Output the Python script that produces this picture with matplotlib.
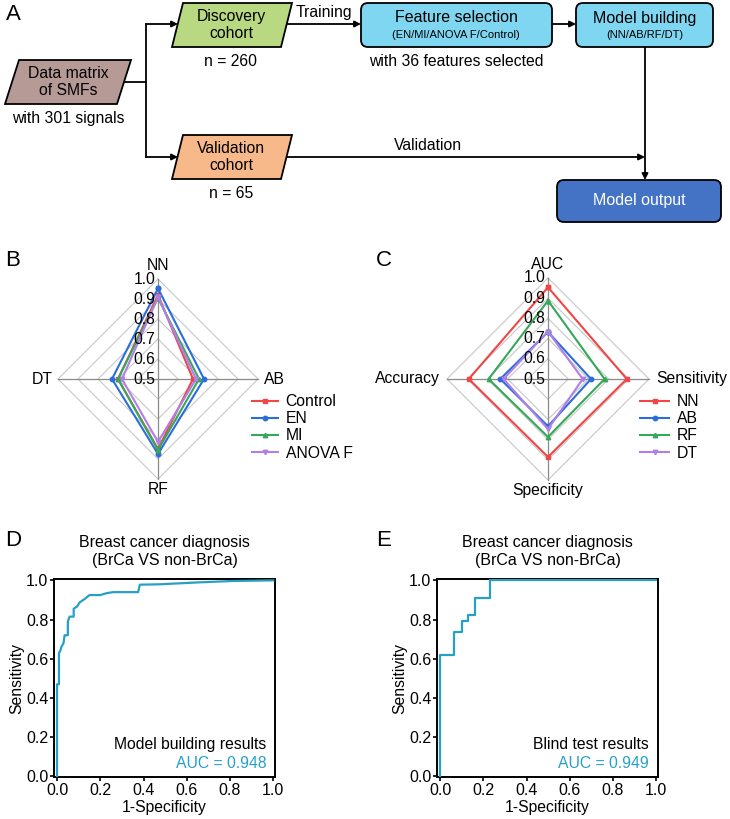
import matplotlib
matplotlib.use('Agg')
import matplotlib.pyplot as plt
from matplotlib.patches import Polygon, FancyBboxPatch
import numpy as np

W, H = 730, 819
plt.rcParams['font.family'] = ['Liberation Sans', 'DejaVu Sans']

# ── data ──────────────────────────────────────────────────────────────────────
radar_ticks = [0.5, 0.6, 0.7, 0.8, 0.9, 1.0]

b_axes = ['NN', 'AB', 'RF', 'DT']
b_names = ['Control', 'EN', 'MI', 'ANOVA F']
b_control = [0.92, 0.675, 0.85, 0.70]
b_en = [0.953, 0.73, 0.875, 0.73]
b_mi = [0.905, 0.705, 0.855, 0.70]
b_anova = [0.91, 0.69, 0.815, 0.68]

c_axes = ['AUC', 'Sensitivity', 'Specificity', 'Accuracy']
c_names = ['NN', 'AB', 'RF', 'DT']
c_nn = [0.954, 0.89, 0.886, 0.892]
c_ab = [0.733, 0.713, 0.734, 0.736]
c_rf = [0.888, 0.78, 0.787, 0.794]
c_dt = [0.735, 0.672, 0.748, 0.72]

d_fpr = [0, 0, 0.009, 0.009, 0.015, 0.02, 0.03, 0.035, 0.05, 0.05, 0.058, 0.077,
         0.077, 0.093, 0.105, 0.128, 0.15, 0.2, 0.23, 0.26, 0.375, 0.383, 0.475,
         0.66, 0.815, 1.0]
d_tpr = [0, 0.47, 0.47, 0.63, 0.64, 0.66, 0.68, 0.72, 0.72, 0.79, 0.815, 0.815,
         0.855, 0.867, 0.888, 0.905, 0.925, 0.925, 0.935, 0.94, 0.94, 0.978, 0.98,
         0.99, 0.997, 1.0]
d_auc = 0.948

e_fpr = [0, 0, 0.066, 0.066, 0.10, 0.10, 0.131, 0.131, 0.164, 0.164, 0.231, 0.231, 1.0]
e_tpr = [0, 0.619, 0.619, 0.737, 0.737, 0.793, 0.793, 0.825, 0.825, 0.91, 0.91, 1.0, 1.0]
e_auc = 0.949

# ── colours ───────────────────────────────────────────────────────────────────
RED = "#f04646"
BLUE = "#2a6edb"
GREEN = "#35a85a"
PURPLE = "#b07fe8"
ROC = "#27a0c8"
RING = "#c8c8c8"
SPOKE = "#8a8a8a"


def rect(l, t, w, h):
    return [l / W, 1 - (t + h) / H, w / W, h / H]


fig = plt.figure(figsize=(W / 100, H / 100), dpi=100)

# ══════════════════════════════════════════════════════════════════════════════
# A. flowchart (pixel coordinates on an overlay axes)
# ══════════════════════════════════════════════════════════════════════════════
ov = fig.add_axes([0, 0, 1, 1])
ov.set_xlim(0, W)
ov.set_ylim(H, 0)
ov.axis('off')


def para(x0, x1, top, bot, slant, fc):
    pts = [(x0 + slant, top), (x1, top), (x1 - slant, bot), (x0, bot)]
    ov.add_patch(Polygon(pts, closed=True, fc=fc, ec='k', lw=1.3, zorder=2))


def rbox(x0, x1, top, bot, fc):
    ov.add_patch(FancyBboxPatch((x0, top), x1 - x0, bot - top,
                                boxstyle="round,pad=0,rounding_size=7",
                                fc=fc, ec='k', lw=1.3, zorder=2))


def arrow(p0, p1):
    ov.annotate('', xy=p1, xytext=p0,
                arrowprops=dict(arrowstyle='-|>', color='k', lw=1.3,
                                mutation_scale=9, shrinkA=0, shrinkB=0))


def line(xs, ys):
    ov.plot(xs, ys, color='k', lw=1.3, zorder=1)


para(5, 131, 60, 104, 14, "#b59a96")
ov.text(68, 82, "Data matrix\nof SMFs", ha='center', va='center', fontsize=11.3,
        linespacing=1.15, zorder=3)
ov.text(68, 119, "with 301 signals", ha='center', va='center', fontsize=11.3)

line([124, 146], [82, 82])
line([146, 146], [24, 157])
arrow((146, 24), (178, 24))
arrow((146, 157), (178, 157))

para(172, 292, 3, 47, 11, "#b8d882")
ov.text(231, 25, "Discovery\ncohort", ha='center', va='center', fontsize=11.3,
        linespacing=1.15, zorder=3)
ov.text(231, 61, "n = 260", ha='center', va='center', fontsize=11.3)

arrow((287, 24), (361, 24))
ov.text(324, 13, "Training", ha='center', va='center', fontsize=11.3)

rbox(361, 552, 3, 47, "#7fd6f0")
ov.text(456, 18, "Feature selection", ha='center', va='center', fontsize=11.5, zorder=3)
ov.text(456, 35, "(EN/MI/ANOVA F/Control)", ha='center', va='center', fontsize=8, zorder=3)
ov.text(456, 61, "with 36 features selected", ha='center', va='center', fontsize=11.3)

arrow((552, 24), (576, 24))

rbox(576, 713, 3, 47, "#7fd6f0")
ov.text(645, 18, "Model building", ha='center', va='center', fontsize=11.5, zorder=3)
ov.text(645, 35, "(NN/AB/RF/DT)", ha='center', va='center', fontsize=8, zorder=3)

arrow((645, 47), (645, 180))

para(172, 292, 135, 179, 11, "#f8b98a")
ov.text(231, 157, "Validation\ncohort", ha='center', va='center', fontsize=11.3,
        linespacing=1.15, zorder=3)
ov.text(231, 193, "n = 65", ha='center', va='center', fontsize=11.3)

arrow((287, 157), (645, 157))
ov.text(428, 146, "Validation", ha='center', va='center', fontsize=11.3)

rbox(557, 721, 180, 222, "#4472c4")
ov.text(639, 201, "Model output", ha='center', va='center', fontsize=11.5,
        color='white', zorder=3)

# panel letters
for letter, x, y in [("A", 13, 15), ("B", 13, 260), ("C", 384, 260),
                     ("D", 13, 540), ("E", 384, 540)]:
    ov.text(x, y, letter, ha='center', va='center', fontsize=16)


# ══════════════════════════════════════════════════════════════════════════════
# B / C. radar charts
# ══════════════════════════════════════════════════════════════════════════════
def radar(cx, cy, rad, labels, series, names, colors, markers, label_pad, leg_xy,
          leg_handle):
    ax = fig.add_axes(rect(cx - rad, cy - rad, 2 * rad, 2 * rad), projection='polar')
    ax.set_theta_zero_location('N')
    ax.set_theta_direction(-1)
    ax.set_ylim(0.5, 1.0)
    ax.grid(False)
    ax.set_xticks([])
    ax.set_yticks([])
    ax.spines['polar'].set_visible(False)
    ax.patch.set_visible(False)

    ang = list(np.arange(len(labels)) * 2 * np.pi / len(labels))
    closed = ang + ang[:1]
    for t in radar_ticks[1:]:
        ax.plot(closed, [t] * len(closed), color=RING, lw=0.8, clip_on=False, zorder=1)
    for a in ang:
        ax.plot([a, a], [0.5, 1.0], color=SPOKE, lw=0.9, clip_on=False, zorder=1)

    for vals, name, col, mk in zip(series, names, colors, markers):
        v = list(vals) + list(vals[:1])
        ax.plot(closed, v, color=col, lw=1.5, marker=mk, markersize=3.2,
                label=name, clip_on=False, zorder=3)

    for t in radar_ticks:
        ax.annotate(f"{t:.1f}", xy=(0, t), xytext=(-2, 0), textcoords='offset points',
                    ha='right', va='center', fontsize=11.3, zorder=4)

    offs = [((0, 4.5), 'center', 'bottom'), ((label_pad, 0), 'left', 'center'),
            ((0, -2), 'center', 'top'), ((-label_pad, 0), 'right', 'center')]
    for a, lab, (o, ha, va) in zip(ang, labels, offs):
        ax.annotate(lab, xy=(a, 1.0), xytext=o, textcoords='offset points',
                    ha=ha, va=va, fontsize=11.3)

    ax.legend(loc='upper left', bbox_to_anchor=(leg_xy[0] / W, 1 - leg_xy[1] / H),
              bbox_transform=fig.transFigure, frameon=False, fontsize=11.3,
              handlelength=leg_handle, handletextpad=0.5, labelspacing=0.14,
              borderpad=0, borderaxespad=0)
    return ax


radar(158, 379, 100, b_axes, [b_control, b_en, b_mi, b_anova], b_names,
      [RED, BLUE, GREEN, PURPLE], ['s', 'o', '^', 'v'], 4, (252, 394), 1.65)
radar(548, 379, 101, c_axes, [c_nn, c_ab, c_rf, c_dt], c_names,
      [RED, BLUE, GREEN, PURPLE], ['s', 'o', '^', 'v'], 5, (640, 394), 1.85)


# ══════════════════════════════════════════════════════════════════════════════
# D / E. ROC curves
# ══════════════════════════════════════════════════════════════════════════════
def roc(left, fpr, tpr, auc, note):
    ax = fig.add_axes(rect(left, 579, 221, 198))
    ax.plot(fpr, tpr, color=ROC, lw=1.6, zorder=3)
    ax.set_xlim(-0.014, 1.008)
    ax.set_ylim(-0.003, 1.007)
    ticks = [0.0, 0.2, 0.4, 0.6, 0.8, 1.0]
    ax.set_xticks(ticks)
    ax.set_yticks(ticks)
    ax.set_xticklabels([f"{t:.1f}" for t in ticks])
    ax.set_yticklabels([f"{t:.1f}" for t in ticks])
    for s in ax.spines.values():
        s.set_linewidth(1.4)
    ax.tick_params(length=3, width=1.2, labelsize=11.5, pad=1)
    ax.set_xlabel("1-Specificity", fontsize=11.3, labelpad=2)
    ax.set_ylabel("Sensitivity", fontsize=11.3, labelpad=1)
    ax.set_title("Breast cancer diagnosis\n(BrCa VS non-BrCa)", fontsize=11.5,
                 linespacing=1.3, pad=10)
    ax.text(0.96, 0.165, note, transform=ax.transAxes, ha='right', va='center',
            fontsize=11.3)
    ax.text(0.96, 0.068, f"AUC = {auc:.3f}", transform=ax.transAxes, ha='right',
            va='center', fontsize=11.3, color=ROC)
    return ax


roc(54, d_fpr, d_tpr, d_auc, "Model building results")
roc(437, e_fpr, e_tpr, e_auc, "Blind test results")

fig.savefig("out.png", dpi=100, facecolor='white')
